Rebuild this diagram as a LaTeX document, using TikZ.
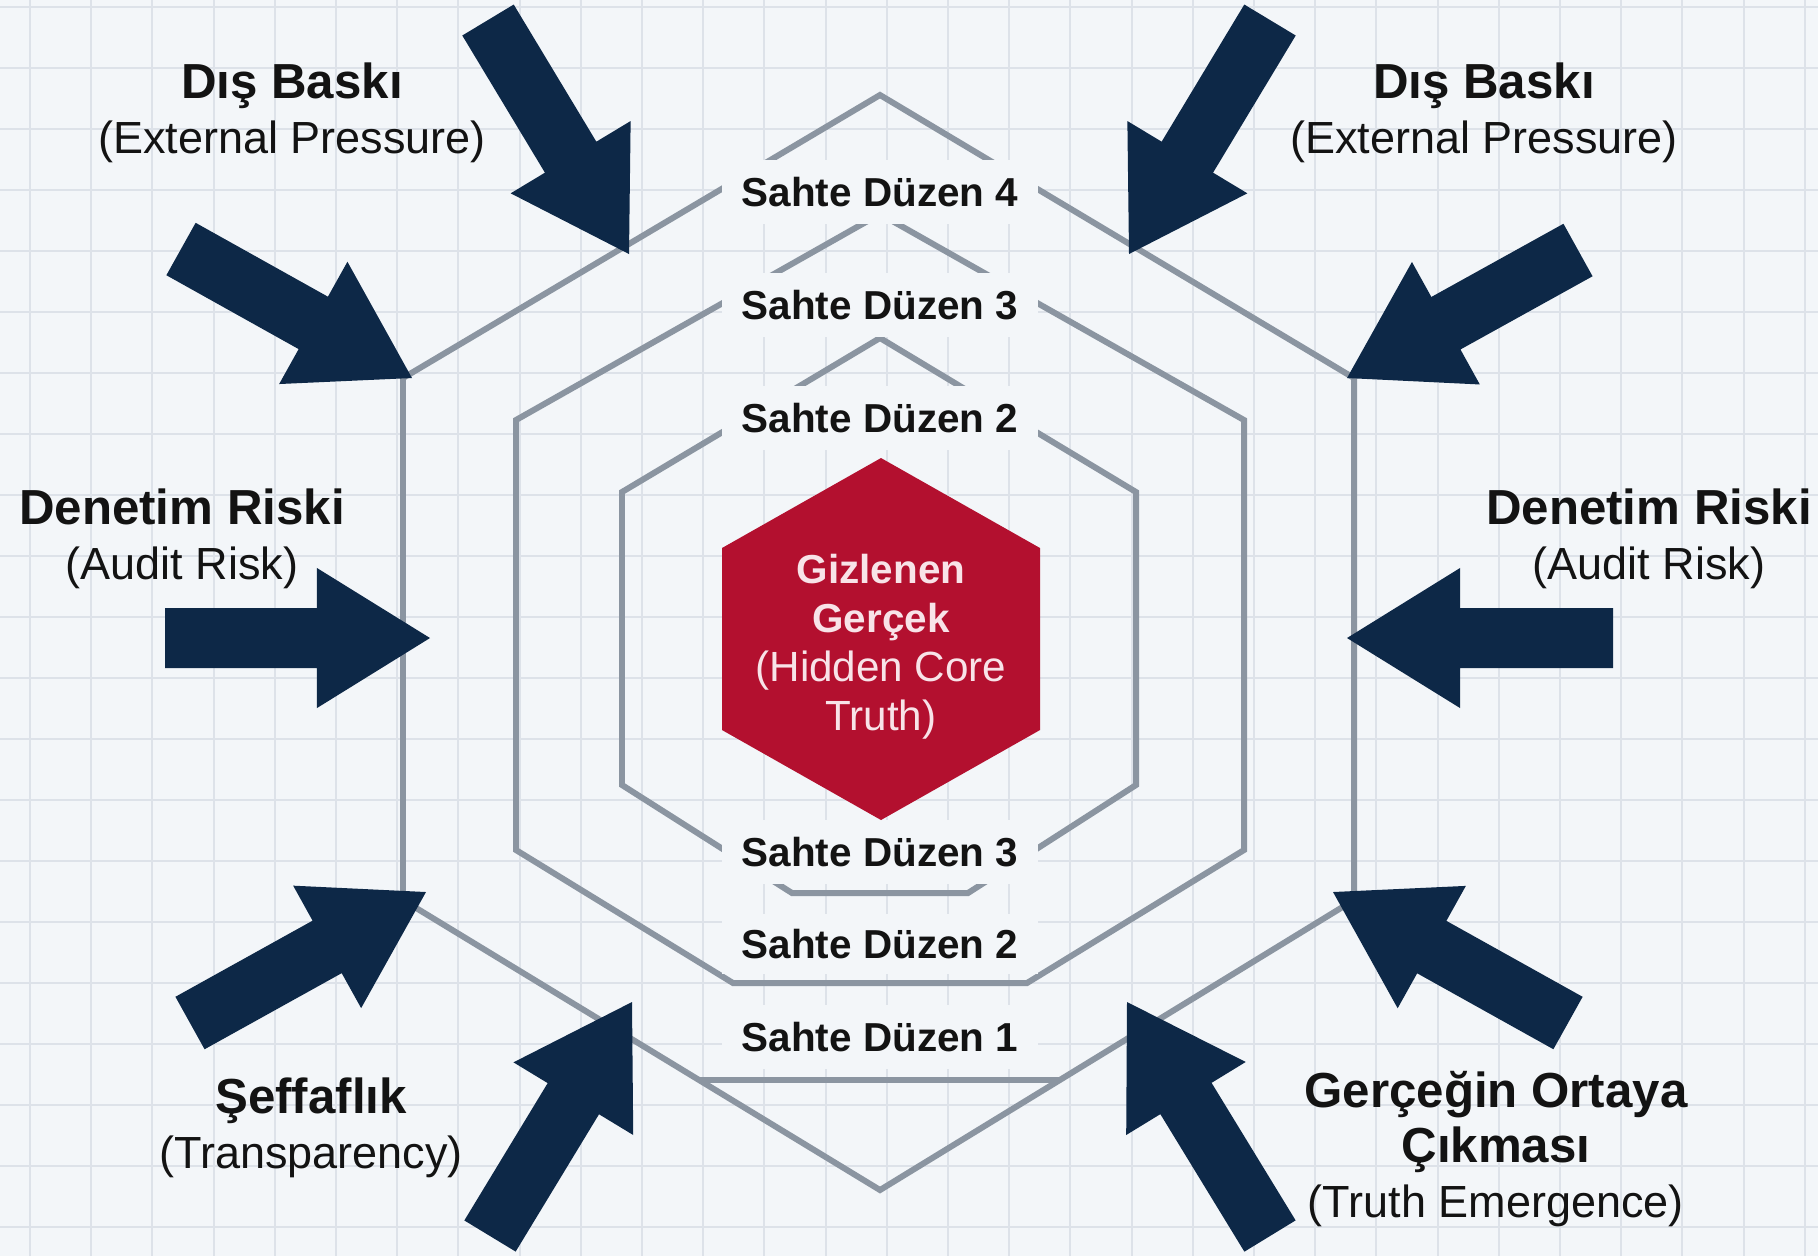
\documentclass[tikz,border=0pt]{standalone}
\usepackage{fontspec}
\setmainfont{Liberation Sans}
\usetikzlibrary{calc}

\definecolor{paper}{HTML}{F3F6F9}
\definecolor{gridcol}{HTML}{DDE2E9}
\definecolor{layergray}{HTML}{8B95A1}
\definecolor{pressnavy}{HTML}{0D2847}
\definecolor{corered}{HTML}{B3102F}
\definecolor{corepink}{HTML}{F8E3E8}
\definecolor{ink}{HTML}{131313}

\tikzset{
  gridline/.style={gridcol, line width=0.55pt},
  layer/.style={layergray, line width=1.7pt},
  layerlabel/.style={fill=paper, text=ink, inner sep=0pt, minimum width=3.16cm,
    minimum height=0.64cm, font=\fontsize{11.5}{13}\selectfont\bfseries},
  forcelabel/.style={text=ink, align=center, inner sep=0pt,
    font=\fontsize{12.8}{15.6}\selectfont},
  pressure/.style={fill=pressnavy},
}
\newcommand{\forcename}[1]{{\fontsize{14}{15.6}\selectfont\bfseries #1}}
% block arrow from a tail coordinate to a tip coordinate
\newcommand{\pressarrow}[2]{%
  \coordinate (#1-base) at ($(#2)!1.13cm!(#1)$);
  \fill[pressure] ($(#1)!0.3cm!90:(#2)$) -- ($(#1-base)!0.3cm!90:(#2)$)
    -- ($(#1-base)!0.7cm!90:(#2)$) -- (#2)
    -- ($(#1-base)!0.7cm!-90:(#2)$) -- ($(#1-base)!0.3cm!-90:(#2)$)
    -- ($(#1)!0.3cm!-90:(#2)$) -- cycle;}

\begin{document}
\begin{tikzpicture}[x=0.01cm,y=-0.01cm]
\useasboundingbox (0,0) rectangle (1818,1256);
% Paper and grid
\fill[paper] (0,0) rectangle (1818,1256);
\foreach \i in {0,...,29} \draw[gridline] ({30+61.2*\i},0) -- ({30+61.2*\i},1256);
\foreach \j in {0,...,20} \draw[gridline] (0,{7+61*\j}) -- (1818,{7+61*\j});
% Outer layer and its chord
\draw[layer] (880,95) -- (1354,378) -- (1354,900) -- (880,1190) -- (403,900) -- (403,378) -- cycle;
\draw[layer] (699,1080) -- (1060,1080);
% Middle layer, flat bottom
\draw[layer] (880,214) -- (1244,420) -- (1244,850) -- (1027,983) -- (733,983) -- (516,850) -- (516,420) -- cycle;
% Inner layer, flat bottom
\draw[layer] (880,338) -- (1136,492) -- (1136,785) -- (968,893) -- (792,893) -- (622,785) -- (622,492) -- cycle;
% Layer names on top of the lines
\node[layerlabel] (fake4) at (880,192) {Sahte Düzen 4};
\node[layerlabel] (fake3top) at (880,305) {Sahte Düzen 3};
\node[layerlabel] (fake2top) at (880,418) {Sahte Düzen 2};
\node[layerlabel] (fake3low) at (880,852) {Sahte Düzen 3};
\node[layerlabel, minimum height=0.6cm] (fake2low) at (880,944) {Sahte Düzen 2};
\node[layerlabel] (fake1) at (880,1037) {Sahte Düzen 1};
% The hidden core
\fill[corered] (881,458) -- (1040,548) -- (1040,730) -- (881,820) -- (722,730) -- (722,548) -- cycle;
\node[text=corepink, align=center, inner sep=0pt, font=\fontsize{12}{13.9}\selectfont] (core) at (881,647)
  {{\fontsize{11.5}{13.9}\selectfont\bfseries Gizlenen}\\{\fontsize{11.5}{13.9}\selectfont\bfseries Gerçek}\\(Hidden Core\\Truth)};
% Tails and tips of the pressure arrows
\coordinate (tailA) at (488,20);   \coordinate (hitA) at (629,254);
\coordinate (tailB) at (181,249);  \coordinate (hitB) at (412,378);
\coordinate (tailC) at (165,638);  \coordinate (hitC) at (430,638);
\coordinate (tailD) at (190,1023); \coordinate (hitD) at (426,892);
\coordinate (tailE) at (490,1236); \coordinate (hitE) at (632,1002);
\coordinate (tailF) at (1270,20);  \coordinate (hitF) at (1129,254);
\coordinate (tailG) at (1578,250); \coordinate (hitG) at (1347,378);
\coordinate (tailH) at (1613,638); \coordinate (hitH) at (1347,638);
\coordinate (tailI) at (1568,1023);\coordinate (hitI) at (1333,892);
\coordinate (tailJ) at (1270,1236);\coordinate (hitJ) at (1127,1002);
% Draw the arrows
\pressarrow{tailA}{hitA}
\pressarrow{tailB}{hitB}
\pressarrow{tailC}{hitC}
\pressarrow{tailD}{hitD}
\pressarrow{tailE}{hitE}
\pressarrow{tailF}{hitF}
\pressarrow{tailG}{hitG}
\pressarrow{tailH}{hitH}
\pressarrow{tailI}{hitI}
\pressarrow{tailJ}{hitJ}
% Names of the forces
\node[forcelabel] (pressL) at (292,113) {\forcename{Dış Baskı}\\(External Pressure)};
\node[forcelabel] (pressR) at (1484,113) {\forcename{Dış Baskı}\\(External Pressure)};
\node[forcelabel] (auditL) at (182,539) {\forcename{Denetim Riski}\\(Audit Risk)};
\node[forcelabel] (auditR) at (1649,539) {\forcename{Denetim Riski}\\(Audit Risk)};
\node[forcelabel] (clear) at (311,1128) {\forcename{Şeffaflık}\\(Transparency)};
\node[forcelabel] (emerge) at (1496,1149) {\forcename{Gerçeğin Ortaya}\\\forcename{Çıkması}\\(Truth Emergence)};
\end{tikzpicture}
\end{document}
